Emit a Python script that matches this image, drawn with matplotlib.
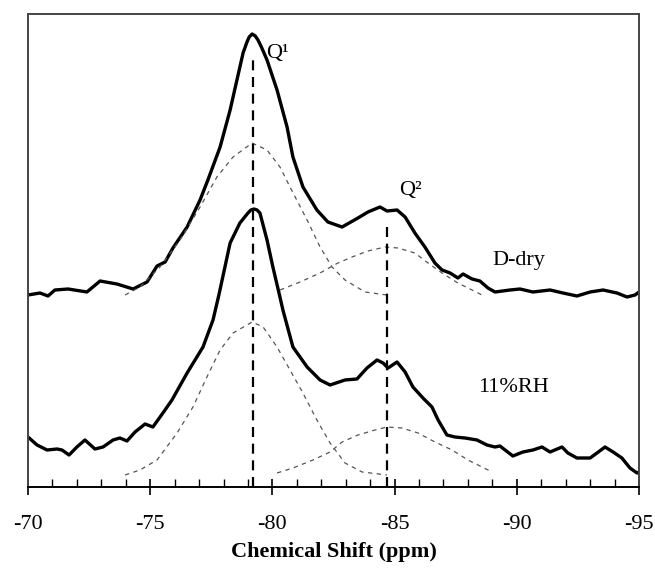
import matplotlib
matplotlib.use("Agg")
import matplotlib.pyplot as plt
from matplotlib.ticker import MultipleLocator

# ---------------- data (chemical shift in ppm, intensity in arbitrary units) ----------------
ddry_ppm = [-70.00, -70.49, -70.82, -71.10, -71.64, -72.41, -72.95, -73.64, -74.30, -74.87,
            -75.28, -75.61, -75.93, -76.51, -77.04, -77.36, -77.86, -78.27, -78.67, -78.80,
            -78.96, -79.05, -79.17, -79.30, -79.41, -79.55, -79.78, -80.19, -80.60, -80.84,
            -81.25, -81.82, -82.27, -82.85,
            -83.50, -83.91, -84.40, -84.69, -85.10, -85.43, -85.83, -86.24, -86.65, -86.94,
            -87.27, -87.59, -87.80, -88.17, -88.49, -88.82, -89.11, -89.72, -90.13, -90.66,
            -91.36, -91.89, -92.46, -93.00, -93.53, -94.10, -94.51, -94.84, -95.00]
ddry_int = [192, 194, 191, 197, 198, 195, 206, 203, 198, 205,
            221, 225, 239, 260, 287, 307, 340, 377, 420, 434,
            445, 450, 453, 451, 447, 440, 427, 397, 360, 330,
            300, 277, 265, 260,
            269, 275, 280, 276, 277, 270, 254, 240, 224, 217,
            214, 209, 213, 208, 206, 199, 195, 197, 198, 195,
            197, 194, 191, 195, 197, 194, 190, 192, 195]

rh11_ppm = [-70.00, -70.37, -70.78, -71.19, -71.39, -71.68, -72.00, -72.33, -72.74, -73.07,
            -73.48, -73.76, -74.05, -74.38, -74.79, -75.11, -75.52, -75.89, -76.51, -77.16,
            -77.57, -77.81, -78.27, -78.67, -79.00, -79.12, -79.25, -79.37, -79.49, -79.78,
            -80.02, -80.27,
            -80.43, -80.84, -81.42, -81.95, -82.36, -82.97, -83.46, -83.87, -84.28, -84.53,
            -84.73, -85.10, -85.43, -85.75, -86.16, -86.53, -86.78, -87.14, -87.47, -87.88,
            -88.37, -88.78, -89.11, -89.31, -89.52, -89.84, -90.25, -90.66, -91.03, -91.36,
            -91.85, -92.09, -92.46, -93.00, -93.28, -93.61, -93.94, -94.30, -94.63, -94.92,
            -95.00]
rh11_int = [50, 42, 37, 38, 37, 32, 40, 47, 38, 40,
            47, 49, 46, 55, 63, 60, 74, 87, 114, 140,
            167, 192, 244, 264, 274, 277, 278, 277, 274, 247,
            220, 194,
            177, 140, 120, 107, 102, 107, 108, 119, 127, 124,
            119, 125, 115, 100, 89, 80, 67, 52, 50, 49,
            47, 42, 40, 41, 37, 31, 35, 37, 40, 35,
            40, 34, 29, 29, 34, 40, 35, 29, 19, 14,
            15]

# fitted components (dashed)
ddry_q1_ppm = [-73.97, -74.58, -75.40, -76.22, -77.04, -77.73, -78.39, -79.17, -79.78,
               -80.31, -80.72, -81.42, -81.95, -82.44, -82.97, -83.79, -84.69]
ddry_q1_int = [192, 200, 220, 247, 280, 310, 330, 344, 337, 320, 300, 267, 240, 220, 207, 195, 192]
ddry_q2_ppm = [-80.31, -81.13, -81.95, -82.68, -83.26, -83.91, -84.61, -85.14, -85.83,
               -86.37, -86.94, -87.59, -88.58]
ddry_q2_int = [197, 205, 214, 224, 230, 236, 240, 239, 234, 224, 214, 204, 192]

rh11_q1_ppm = [-73.97, -74.58, -75.28, -76.10, -76.75, -77.32, -77.86, -78.39, -79.17,
               -79.62, -80.19, -80.72, -81.25, -81.82, -82.36, -82.97, -83.67, -84.69]
rh11_q1_int = [12, 17, 27, 54, 80, 110, 137, 154, 165, 160, 140, 117, 94, 67, 44, 24, 15, 12]
rh11_q2_ppm = [-80.19, -80.84, -81.66, -82.36, -82.85, -83.50, -84.20, -84.69, -85.30,
               -85.96, -86.65, -87.35, -88.00, -88.99]
rh11_q2_int = [14, 19, 27, 35, 45, 52, 57, 60, 59, 54, 45, 37, 27, 15]

# peak marker lines
peak_ppm = [-79.2, -84.7]
peak_top = [427, 265]

x_ticks = [-70, -75, -80, -85, -90, -95]
x_ticklabels = ["-70", "-75", "-80", "-85", "-90", "-95"]

# ---------------- plot ----------------
plt.rcParams['font.family'] = ['Liberation Serif', 'DejaVu Serif']

fig = plt.figure(figsize=(6.55, 5.70), dpi=100)
ax = fig.add_axes([28 / 655, 1 - 487 / 570, (639 - 28) / 655, (487 - 14) / 570])

spec_kw = dict(color='black', lw=2.4, solid_joinstyle='round', solid_capstyle='round')
comp_kw = dict(color='#555555', lw=0.9, linestyle=(0, (3.5, 3.5)))

ax.plot(ddry_ppm, ddry_int, **spec_kw)
ax.plot(rh11_ppm, rh11_int, **spec_kw)
ax.plot(ddry_q1_ppm, ddry_q1_int, **comp_kw)
ax.plot(ddry_q2_ppm, ddry_q2_int, **comp_kw)
ax.plot(rh11_q1_ppm, rh11_q1_int, **comp_kw)
ax.plot(rh11_q2_ppm, rh11_q2_int, **comp_kw)

for p, t in zip(peak_ppm, peak_top):
    ax.plot([p, p], [0, t], color='black', lw=1.6, linestyle=(0, (4.5, 3)))

ax.set_xlim(-70, -95)
ax.set_ylim(0, 473)

ax.set_xticks(x_ticks)
ax.set_xticklabels(x_ticklabels)
ax.xaxis.set_minor_locator(MultipleLocator(1))
ax.tick_params(axis='x', which='major', direction='inout', length=12, width=1.2,
               labelsize=16, pad=14, colors='black')
ax.tick_params(axis='x', which='minor', direction='in', length=6, width=1.0)
ax.set_yticks([])

for name, sp in ax.spines.items():
    sp.set_linewidth(1.4)
    sp.set_color('#444444')
ax.spines['bottom'].set_color('black')

ax.set_xlabel("Chemical Shift (ppm)", fontsize=16, fontweight='bold', labelpad=6)

ax.text(-79.75, 429, "Q¹", fontsize=16, ha='left', va='baseline')
ax.text(-85.2, 292, "Q²", fontsize=16, ha='left', va='baseline')
ax.text(-89.0, 222, "D-dry", fontsize=16, ha='left', va='baseline')
ax.text(-88.4, 95, "11%RH", fontsize=16, ha='left', va='baseline')

fig.savefig("out.png", dpi=100)
